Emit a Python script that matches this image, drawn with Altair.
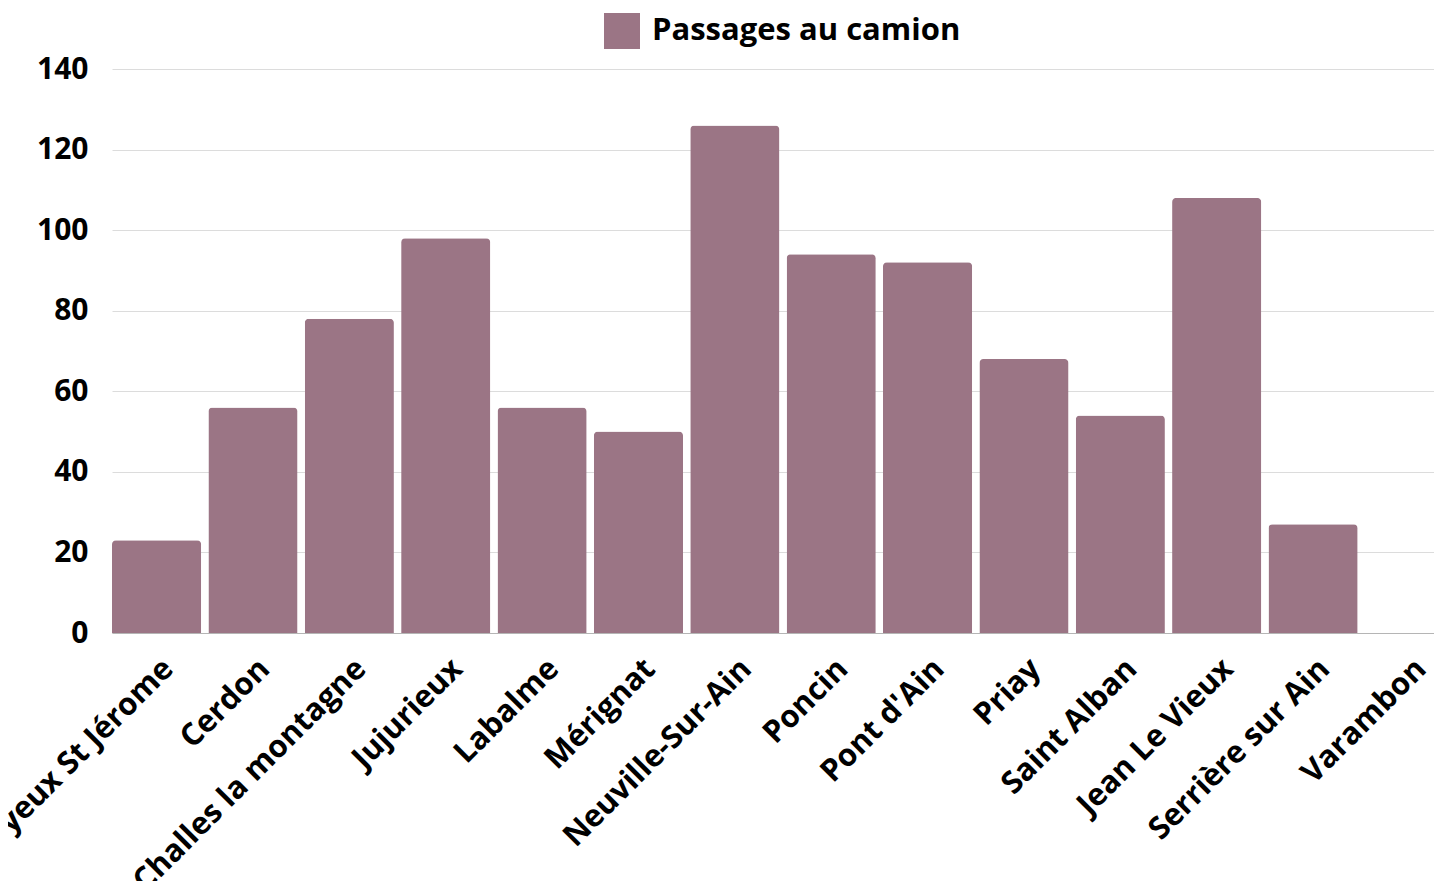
import altair as alt
import pandas as pd

communes = ["Boyeux St Jérome", "Cerdon", "Challes la montagne", "Jujurieux", "Labalme",
            "Mérignat", "Neuville-Sur-Ain", "Poncin", "Pont d'Ain", "Priay",
            "Saint Alban", "Jean Le Vieux", "Serrière sur Ain", "Varambon"]
passages = [23, 56, 78, 98, 56, 50, 126, 94, 92, 68, 54, 108, 27, 0]
series = ["Passages au camion"] * len(communes)
y_ticks = [0, 20, 40, 60, 80, 100, 120, 140]

df = pd.DataFrame({"commune": communes, "passages": passages, "serie": series})

FONT = "Open Sans"
BAR = "#9b7585"

chart = alt.Chart(df).mark_bar(
    cornerRadiusTopLeft=4, cornerRadiusTopRight=4
).encode(
    x=alt.X("commune:N", sort=communes, title=None,
            scale=alt.Scale(range=[0, 1342], paddingInner=0.075, paddingOuter=0),
            axis=alt.Axis(labelAngle=-45, labelAlign="right", labelBaseline="middle",
                          labelPadding=31, labelOffset=12, ticks=False,
                          labelFont=FONT, labelFontWeight="bold", labelFontSize=31,
                          labelColor="#000", domainColor="#b5b5b5", domainWidth=1,
                          labelOverlap=False, labelLimit=0)),
    y=alt.Y("passages:Q", title=None,
            scale=alt.Scale(domain=[0, 140], nice=False),
            axis=alt.Axis(values=y_ticks, ticks=False, domain=False, labelPadding=24,
                          labelFont=FONT, labelFontWeight="bold", labelFontSize=30,
                          labelColor="#000", gridColor="#dcdcdc", gridWidth=1)),
    color=alt.Color("serie:N", scale=alt.Scale(range=[BAR]),
                    legend=alt.Legend(title=None, orient="none", legendX=492, legendY=-56,
                                      direction="horizontal",
                                      symbolType="square", symbolSize=1296,
                                      symbolStrokeWidth=0, labelFont=FONT,
                                      labelFontWeight="bold", labelFontSize=31,
                                      labelOffset=12,
                                      labelColor="#000", labelLimit=0)),
).properties(
    width=1322, height=564,
    autosize=alt.AutoSizeParams(type="none"),
    padding={"left": 104, "top": 61, "right": 0, "bottom": 248},
).configure_view(stroke=None)

chart.save("out.html", embed_options={"renderer": "svg", "actions": False})
